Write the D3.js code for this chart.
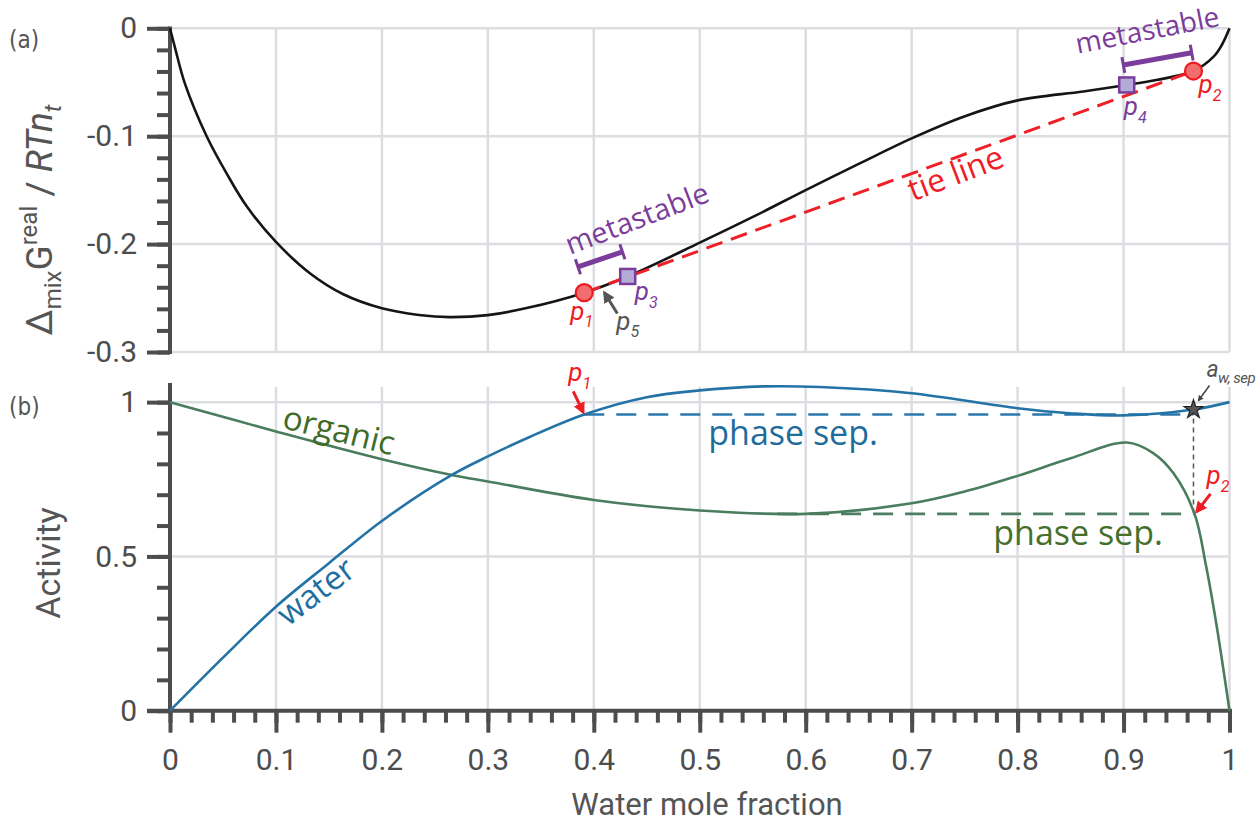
<!DOCTYPE html>
<html>
<head>
<meta charset="utf-8">
<script src="https://cdn.jsdelivr.net/npm/d3@7"></script>
<style>
    body { margin: 0; background: #fff; }
    svg { display: block; font-family: Roboto, sans-serif; }
    .grid line { stroke: #dcdde1; stroke-width: 2.5; }
    .axis path { display: none; }
    .axis line { stroke: #4d4d4d; stroke-width: 4; }
    .axis text { fill: #4d4d4d; font-size: 30px; font-family: Roboto, sans-serif; }
    .lbl { font-family: "Open Sans", sans-serif; }
    .plab { font-family: Roboto, sans-serif; font-style: italic; }
</style>
</head>
<body>
<div id="chart"></div>
<script>
// ---- data ----
// (a) Gibbs energy of mixing
var gX = [0, 0.005, 0.014, 0.0346, 0.0535, 0.0724, 0.1, 0.132, 0.1636, 0.2, 0.235, 0.264, 0.3, 0.3366,
          0.391, 0.432, 0.5, 0.5506, 0.6, 0.651, 0.7, 0.749, 0.8, 0.862, 0.903, 0.931, 0.966, 0.985, 0.993, 1.0];
var gY = [0, -0.019, -0.051, -0.1, -0.1346, -0.165, -0.198, -0.227, -0.2465, -0.2595, -0.2657, -0.2677, -0.2658, -0.2593,
          -0.245, -0.230, -0.1987, -0.1746, -0.1499, -0.1252, -0.102, -0.0819, -0.0668, -0.0585, -0.0525, -0.0479, -0.0396, -0.0263, -0.015, 0];

// (b) activities
var waterX = [0, 0.05, 0.1, 0.15, 0.2, 0.266, 0.3, 0.34, 0.391, 0.45, 0.5, 0.56, 0.6135, 0.7, 0.8, 0.849, 0.9, 0.966, 1.0];
var waterA = [0, 0.172, 0.337, 0.478, 0.615, 0.764, 0.824, 0.888, 0.96, 1.016, 1.038, 1.051, 1.049, 1.029, 0.98, 0.964, 0.957, 0.976, 1.0];
var organicX = [0, 0.1, 0.2, 0.266, 0.3, 0.4, 0.5, 0.6, 0.7, 0.75, 0.8, 0.85, 0.903, 0.928, 0.947, 0.967, 0.978, 0.988, 1.0];
var organicA = [1, 0.905, 0.815, 0.764, 0.743, 0.683, 0.649, 0.638, 0.672, 0.71, 0.761, 0.818, 0.869, 0.835, 0.77, 0.638, 0.467, 0.272, 0];

// special points
var binodal = [{x: 0.391, y: -0.245}, {x: 0.966, y: -0.0396}];   // p1, p2
var spinodal = [{x: 0.432, y: -0.230}, {x: 0.903, y: -0.0525}];  // p3, p4
var waterSep = {x0: 0.391, x1: 0.966, a: 0.96};
var organicSep = {x0: 0.573, x1: 0.967, a: 0.638};
var starPt = {x: 0.966, a: 0.976};

// metastable brackets (data coords)
var metaBars = [
    [[0.385, -0.2210], [0.427, -0.2071]],
    [[0.8998, -0.0340], [0.9643, -0.0226]]
];

// ticks
var xTicks = [0, 0.1, 0.2, 0.3, 0.4, 0.5, 0.6, 0.7, 0.8, 0.9, 1];
var topTicks = [0, -0.1, -0.2, -0.3];
var botTicks = [0, 0.5, 1];

function zip_data(xs, ys) {
    var out = [];
    for (var i = 0; i < xs.length; i++) out.push([xs[i], ys[i]]);
    return out;
}

var width = 1260, height = 822;
var svg = d3.select("#chart").append("svg")
    .attr("width", width)
    .attr("height", height);

// scales
var x = d3.scaleLinear().domain([0, 1]).range([170, 1229.5]);
var yTop = d3.scaleLinear().domain([-0.3, 0]).range([352, 28.3]);
var yBot = d3.scaleLinear().domain([0, 1.05]).range([710.7, 386.7]);

var axisCol = "#4d4d4d";

// ---------- grids ----------
var gridTop = svg.append("g").attr("class", "grid");
gridTop.selectAll(".v").data(xTicks).enter().append("line")
    .attr("x1", d => x(d)).attr("x2", d => x(d))
    .attr("y1", yTop(0)).attr("y2", yTop(-0.3));
gridTop.selectAll(".h").data(topTicks).enter().append("line")
    .attr("x1", x(0)).attr("x2", x(1))
    .attr("y1", d => yTop(d)).attr("y2", d => yTop(d));

var gridBot = svg.append("g").attr("class", "grid");
gridBot.selectAll(".v").data(xTicks).enter().append("line")
    .attr("x1", d => x(d)).attr("x2", d => x(d))
    .attr("y1", yBot(1.05)).attr("y2", yBot(0));
gridBot.selectAll(".h").data(botTicks).enter().append("line")
    .attr("x1", x(0)).attr("x2", x(1))
    .attr("y1", d => yBot(d)).attr("y2", d => yBot(d));

// ---------- axes ----------
var fmt = function(d) { return String(d); };

svg.append("g").attr("class", "axis")
    .attr("transform", "translate(170,0)")
    .call(d3.axisLeft(yTop).tickValues(d3.range(-0.3, 0.0001, 0.02)).tickSize(13).tickFormat(""));
svg.append("g").attr("class", "axis")
    .attr("transform", "translate(170,0)")
    .call(d3.axisLeft(yTop).tickValues(topTicks).tickSize(23).tickPadding(10).tickFormat(fmt));

svg.append("g").attr("class", "axis")
    .attr("transform", "translate(170,0)")
    .call(d3.axisLeft(yBot).tickValues(d3.range(0, 1.0001, 0.1)).tickSize(13).tickFormat(""));
svg.append("g").attr("class", "axis")
    .attr("transform", "translate(170,0)")
    .call(d3.axisLeft(yBot).tickValues(botTicks).tickSize(23).tickPadding(10).tickFormat(fmt));

svg.append("g").attr("class", "axis")
    .attr("transform", "translate(0,710.7)")
    .call(d3.axisBottom(x).tickValues(d3.range(0, 1.0001, 0.02)).tickSize(12).tickFormat(""));
svg.append("g").attr("class", "axis")
    .attr("transform", "translate(0,710.7)")
    .call(d3.axisBottom(x).tickValues(xTicks).tickSize(22).tickPadding(16).tickFormat(fmt));

// axis spines
svg.append("line").attr("x1", 170).attr("x2", 170).attr("y1", 26.5).attr("y2", 354)
    .attr("stroke", axisCol).attr("stroke-width", 4);
svg.append("line").attr("x1", 170).attr("x2", 170).attr("y1", 383).attr("y2", 712.7)
    .attr("stroke", axisCol).attr("stroke-width", 4);
svg.append("line").attr("x1", 147).attr("x2", 1232).attr("y1", 710.7).attr("y2", 710.7)
    .attr("stroke", axisCol).attr("stroke-width", 4);

// axis titles
svg.append("text")
    .attr("x", 707).attr("y", 815)
    .attr("text-anchor", "middle")
    .attr("font-size", 31).attr("fill", "#555")
    .text("Water mole fraction");

svg.append("text")
    .attr("transform", "translate(60,563) rotate(-90)")
    .attr("text-anchor", "middle")
    .attr("font-size", 34).attr("fill", "#555")
    .text("Activity");

var yt = svg.append("text")
    .attr("transform", "translate(52,220) rotate(-90)")
    .attr("text-anchor", "middle")
    .attr("font-size", 37).attr("fill", "#555");
yt.append("tspan").text("\u0394");
yt.append("tspan").attr("font-size", 24).attr("dy", 9).text("mix");
yt.append("tspan").attr("dy", -9).text("G");
yt.append("tspan").attr("font-size", 24).attr("dy", -15).text("real");
yt.append("tspan").attr("dy", 15).text(" / ");
yt.append("tspan").attr("font-style", "italic").text("RTn");
yt.append("tspan").attr("font-style", "italic").attr("font-size", 24).attr("dy", 9).text("t");

// panel letters
svg.append("text").attr("x", 9).attr("y", 48)
    .attr("font-family", "'Liberation Sans Narrow', 'DejaVu Sans Condensed', sans-serif")
    .attr("font-size", 24).attr("fill", "#555").text("(a)");
svg.append("text").attr("x", 9).attr("y", 415)
    .attr("font-family", "'Liberation Sans Narrow', 'DejaVu Sans Condensed', sans-serif")
    .attr("font-size", 24).attr("fill", "#555").text("(b)");

// ---------- panel (a) ----------
var lineTop = d3.line()
    .curve(d3.curveCatmullRom.alpha(0.5))
    .x(d => x(d[0]))
    .y(d => yTop(d[1]));

svg.append("path")
    .attr("d", lineTop(zip_data(gX, gY)))
    .attr("fill", "none").attr("stroke", "#151515").attr("stroke-width", 2.6);

svg.append("line")
    .attr("x1", x(binodal[0].x)).attr("y1", yTop(binodal[0].y))
    .attr("x2", x(binodal[1].x)).attr("y2", yTop(binodal[1].y))
    .attr("stroke", "#ee2027").attr("stroke-width", 3)
    .attr("stroke-dasharray", "17,9");

// metastable brackets
var purple = "#7b3d9b";
metaBars.forEach(function(b) {
    var x1 = x(b[0][0]), y1 = yTop(b[0][1]), x2 = x(b[1][0]), y2 = yTop(b[1][1]);
    var dx = x2 - x1, dy = y2 - y1, L = Math.sqrt(dx * dx + dy * dy);
    var nx = -dy / L * 8, ny = dx / L * 8;
    svg.append("line").attr("x1", x1).attr("y1", y1).attr("x2", x2).attr("y2", y2)
        .attr("stroke", purple).attr("stroke-width", 5);
    [[x1, y1], [x2, y2]].forEach(function(p) {
        svg.append("line")
            .attr("x1", p[0] - nx).attr("y1", p[1] - ny)
            .attr("x2", p[0] + nx).attr("y2", p[1] + ny)
            .attr("stroke", purple).attr("stroke-width", 3);
    });
});

svg.selectAll(".sq").data(spinodal).enter().append("rect")
    .attr("x", d => x(d.x) - 7.5).attr("y", d => yTop(d.y) - 7.5)
    .attr("width", 15).attr("height", 15)
    .attr("fill", "#b3acd9").attr("stroke", purple).attr("stroke-width", 2.5);

svg.selectAll(".pt").data(binodal).enter().append("circle")
    .attr("cx", d => x(d.x)).attr("cy", d => yTop(d.y)).attr("r", 8.5)
    .attr("fill", "#f26d6d").attr("stroke", "#ed1c24").attr("stroke-width", 2.2);

// arrow markers
var defs = svg.append("defs");
function marker(id, col) {
    defs.append("marker").attr("id", id)
        .attr("viewBox", "0 0 10 10").attr("refX", 8).attr("refY", 5)
        .attr("markerWidth", 4).attr("markerHeight", 4)
        .attr("orient", "auto-start-reverse")
        .append("path").attr("d", "M0,0 L10,5 L0,10 z").attr("fill", col);
}
marker("arRed", "#ee1c25");
marker("arGrey", "#555");
marker("arGreyS", "#444");

function arrow(x1, y1, x2, y2, col, w, id) {
    svg.append("line").attr("x1", x1).attr("y1", y1).attr("x2", x2).attr("y2", y2)
        .attr("stroke", col).attr("stroke-width", w)
        .attr("marker-end", "url(#" + id + ")");
}

function pLabel(px, py, main, sub, col, size) {
    var t = svg.append("text").attr("class", "plab")
        .attr("x", px).attr("y", py).attr("fill", col).attr("font-size", size);
    t.append("tspan").text(main);
    t.append("tspan").attr("font-size", size * 0.62).attr("dy", size * 0.3).text(sub);
}

// p5 arrow
arrow(x(0.409) + 14, yTop(-0.244) + 22, x(0.409) + 1, yTop(-0.244) + 1, "#555", 3, "arGrey");

pLabel(x(binodal[0].x) - 14, yTop(binodal[0].y) + 27, "p", "1", "#ee1c25", 26);
pLabel(x(spinodal[0].x) + 7, yTop(spinodal[0].y) + 24, "p", "3", purple, 26);
pLabel(x(0.409) + 13, yTop(-0.244) + 38, "p", "5", "#555", 26);
pLabel(x(spinodal[1].x) - 3, yTop(spinodal[1].y) + 30, "p", "4", purple, 26);
pLabel(x(binodal[1].x) + 5, yTop(binodal[1].y) + 22, "p", "2", "#ee1c25", 26);

// rotated labels
function rotLabel(px, py, ang, txt, col, size) {
    svg.append("text").attr("class", "lbl")
        .attr("transform", "translate(" + px + "," + py + ") rotate(" + ang + ")")
        .attr("fill", col).attr("font-size", size).text(txt);
}
rotLabel(x(0.3775), yTop(-0.2101), -21, "metastable", purple, 29);
rotLabel(x(0.8565), yTop(-0.0235), -11, "metastable", purple, 28);
rotLabel(x(0.7013), yTop(-0.1606), -21, "tie line", "#ee2027", 32);

// ---------- panel (b) ----------
var lineBot = d3.line()
    .curve(d3.curveCatmullRom.alpha(0.5))
    .x(d => x(d[0]))
    .y(d => yBot(d[1]));

svg.append("line")
    .attr("x1", x(waterSep.x0)).attr("x2", x(waterSep.x1))
    .attr("y1", yBot(waterSep.a)).attr("y2", yBot(waterSep.a))
    .attr("stroke", "#2a78ad").attr("stroke-width", 2.6).attr("stroke-dasharray", "20,12");
svg.append("line")
    .attr("x1", x(organicSep.x0)).attr("x2", x(organicSep.x1))
    .attr("y1", yBot(organicSep.a)).attr("y2", yBot(organicSep.a))
    .attr("stroke", "#4f7d61").attr("stroke-width", 2.6).attr("stroke-dasharray", "20,12");

svg.append("line")
    .attr("x1", x(starPt.x)).attr("x2", x(starPt.x))
    .attr("y1", yBot(starPt.a)).attr("y2", yBot(organicSep.a))
    .attr("stroke", "#555").attr("stroke-width", 1.5).attr("stroke-dasharray", "5,4");

svg.append("path")
    .attr("d", lineBot(zip_data(organicX, organicA)))
    .attr("fill", "none").attr("stroke", "#4a7c5e").attr("stroke-width", 2.6);
svg.append("path")
    .attr("d", lineBot(zip_data(waterX, waterA)))
    .attr("fill", "none").attr("stroke", "#2473a6").attr("stroke-width", 2.6);

svg.append("path")
    .attr("d", d3.symbol(d3.symbolStar).size(110)())
    .attr("transform", "translate(" + x(starPt.x) + "," + yBot(starPt.a) + ")")
    .attr("fill", "#555").attr("stroke", "#222").attr("stroke-width", 1.2);

// arrows in (b)
arrow(x(waterSep.x0) - 11, yBot(waterSep.a) - 23, x(waterSep.x0) - 1, yBot(waterSep.a) - 2, "#ee1c25", 3, "arRed");
arrow(x(organicSep.x1) + 16, yBot(organicSep.a) - 20, x(organicSep.x1) + 2, yBot(organicSep.a) - 2, "#ee1c25", 3, "arRed");
arrow(x(starPt.x) + 16, yBot(starPt.a) - 24, x(starPt.x) + 5, yBot(starPt.a) - 9, "#444", 1.5, "arGreyS");

pLabel(x(waterSep.x0) - 16, yBot(waterSep.a) - 33, "p", "1", "#ee1c25", 26);
pLabel(x(organicSep.x1) + 12, yBot(organicSep.a) - 30, "p", "2", "#ee1c25", 26);

var aw = svg.append("text").attr("class", "plab")
    .attr("x", x(starPt.x) + 13).attr("y", yBot(starPt.a) - 33)
    .attr("fill", "#555").attr("font-size", 23).attr("letter-spacing", -0.5);
aw.append("tspan").text("a");
aw.append("tspan").attr("font-size", 15).attr("dy", 6).text("w, sep");

rotLabel(x(0.1048), yBot(0.917), 14, "organic", "#3f6b28", 33);
rotLabel(x(0.1114), yBot(0.271), -37.5, "water", "#1f6ea0", 33);
rotLabel(x(0.508), yBot(0.862), 0, "phase sep.", "#1e6c9c", 34);
rotLabel(x(0.777), yBot(0.537), 0, "phase sep.", "#466f2c", 34);
</script>
</body>
</html>
